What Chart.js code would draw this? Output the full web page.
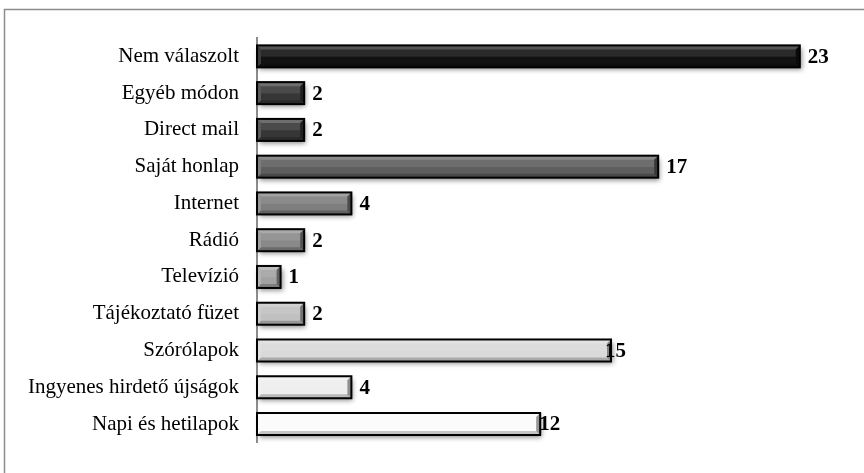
<!DOCTYPE html>
<html>
<head>
<meta charset="utf-8">
<script src="https://cdn.jsdelivr.net/npm/chart.js@4"></script>
<style>
  html, body { margin: 0; padding: 0; background: #fff; }
  #wrap { position: relative; width: 864px; height: 473px; }
</style>
</head>
<body>
<div id="wrap"><canvas id="chart" width="864" height="473"></canvas></div>
<script>
const categories = [
    'Nem válaszolt', 'Egyéb módon', 'Direct mail', 'Saját honlap', 'Internet', 'Rádió',
    'Televízió', 'Tájékoztató füzet', 'Szórólapok', 'Ingyenes hirdető újságok', 'Napi és hetilapok'
];
const counts = [23, 2, 2, 17, 4, 2, 1, 2, 15, 4, 12];

// grey ramp, black at the top to white at the bottom
const barColors = ['#121212', '#363636', '#363636', '#5e5e5e', '#7e7e7e', '#898989',
                   '#a2a2a2', '#c0c0c0', '#d9d9d9', '#eeeeee', '#fbfbfb'];
const labelNudge = { 8: -6, 10: -1 };

const serif = '"Liberation Serif", "Times New Roman", serif';

const frame = {
    id: 'frame',
    beforeDraw(chart) {
        const ctx = chart.ctx;
        ctx.save();
        ctx.strokeStyle = '#8c8c8c';
        ctx.lineWidth = 1.5;
        ctx.strokeRect(4.5, 9.5, 1000, 600);
        ctx.restore();
    }
};

const bevel = {
    id: 'bevel',
    beforeDatasetsDraw(chart) {
        const ctx = chart.ctx;
        const meta = chart.getDatasetMeta(0);
        ctx.save();
        meta.data.forEach(bar => {
            const top = bar.y - bar.height / 2;
            ctx.shadowColor = 'rgba(0,0,0,0.45)';
            ctx.shadowBlur = 5;
            ctx.shadowOffsetX = 2;
            ctx.shadowOffsetY = 3;
            ctx.fillStyle = '#888';
            ctx.fillRect(bar.base, top, bar.x - bar.base, bar.height);
        });
        ctx.restore();
    },
    afterDatasetsDraw(chart) {
        const ctx = chart.ctx;
        const meta = chart.getDatasetMeta(0);
        const b = 4;
        ctx.save();
        meta.data.forEach(bar => {
            const l = bar.base, r = bar.x;
            const t = bar.y - bar.height / 2, btm = bar.y + bar.height / 2;
            // top highlight
            ctx.fillStyle = 'rgba(255,255,255,0.28)';
            ctx.beginPath();
            ctx.moveTo(l, t); ctx.lineTo(r, t); ctx.lineTo(r - b, t + b); ctx.lineTo(l + b, t + b);
            ctx.closePath(); ctx.fill();
            // soft middle sheen
            ctx.fillStyle = 'rgba(255,255,255,0.10)';
            ctx.fillRect(l + b, t + b, r - l - 2 * b, (btm - t) / 3);
            // bottom shade
            ctx.fillStyle = 'rgba(0,0,0,0.22)';
            ctx.beginPath();
            ctx.moveTo(l, btm); ctx.lineTo(r, btm); ctx.lineTo(r - b, btm - b); ctx.lineTo(l + b, btm - b);
            ctx.closePath(); ctx.fill();
            // right end
            ctx.fillStyle = 'rgba(0,0,0,0.40)';
            ctx.beginPath();
            ctx.moveTo(r, t); ctx.lineTo(r, btm); ctx.lineTo(r - b, btm - b); ctx.lineTo(r - b, t + b);
            ctx.closePath(); ctx.fill();
            // left end
            ctx.fillStyle = 'rgba(255,255,255,0.18)';
            ctx.beginPath();
            ctx.moveTo(l, t); ctx.lineTo(l, btm); ctx.lineTo(l + b, btm - b); ctx.lineTo(l + b, t + b);
            ctx.closePath(); ctx.fill();
            ctx.strokeStyle = '#000';
            ctx.lineWidth = 2;
            ctx.strokeRect(l, t, r - l, btm - t);
        });
        // value labels
        ctx.fillStyle = '#000';
        ctx.font = 'bold 21px ' + serif;
        ctx.textBaseline = 'middle';
        ctx.textAlign = 'left';
        meta.data.forEach((bar, i) => {
            const nudge = labelNudge[i] !== undefined ? labelNudge[i] : 8;
            ctx.fillText(String(counts[i]), bar.x + nudge, bar.y + 1);
        });
        ctx.restore();
    }
};

new Chart(document.getElementById('chart'), {
    type: 'bar',
    data: {
        labels: categories,
        datasets: [{
            data: counts,
            backgroundColor: barColors,
            borderColor: '#000',
            borderWidth: 0,
            barThickness: 22
        }]
    },
    options: {
        indexAxis: 'y',
        responsive: false,
        animation: false,
        layout: { padding: { top: 38, bottom: 24, right: 17, left: 0 } },
        plugins: { legend: { display: false }, tooltip: { enabled: false } },
        scales: {
            x: { display: false, min: 0, max: 25 },
            y: {
                afterFit: scale => { scale.width = 257; },
                grid: { display: false, drawTicks: false },
                border: { display: true, color: '#8c8c8c', width: 2 },
                ticks: { color: '#000', padding: 18, font: { family: serif, size: 21 } }
            }
        }
    },
    plugins: [frame, bevel]
});
</script>
</body>
</html>
